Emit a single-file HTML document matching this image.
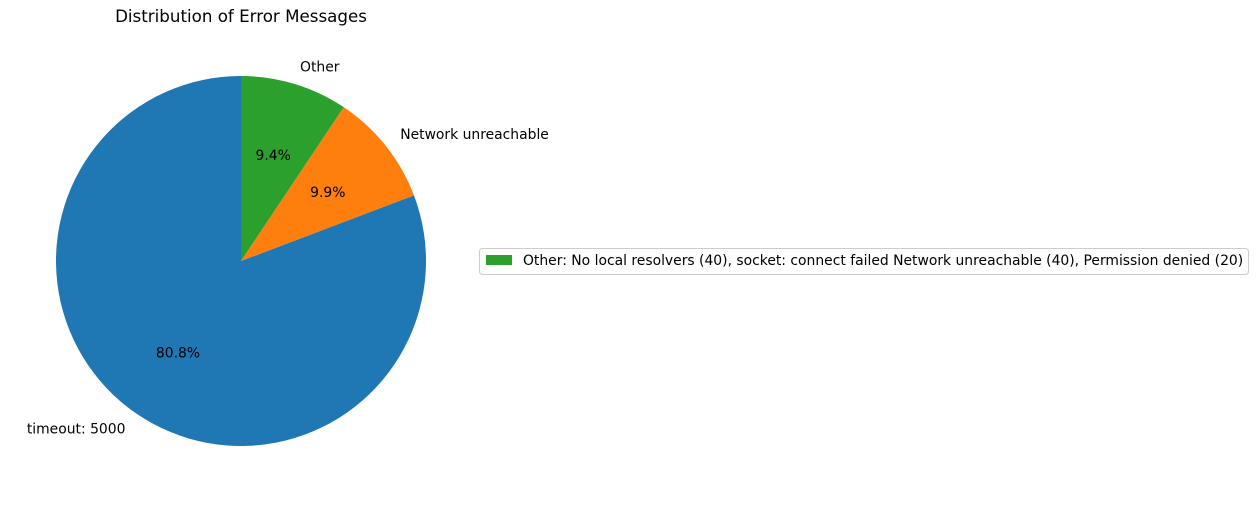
<!DOCTYPE html>
<html><head><meta charset="utf-8"><style>
body{margin:0;background:#fff;font-family:"Liberation Sans","DejaVu Sans",sans-serif;}
</style></head><body>
<svg width="1258" height="502" xmlns="http://www.w3.org/2000/svg" font-family="DejaVu Sans, Liberation Sans, sans-serif">
<text x="241" y="22" text-anchor="middle" font-size="16.7">Distribution of Error Messages</text>
<g id="pie"></g>
<g>
<rect x="479.5" y="248.5" width="769" height="26" rx="3" fill="#fff" stroke="#ccc"/>
<rect x="486" y="255" width="26" height="10" fill="#2ca02c"/>
<text x="523" y="265" font-size="13.9">Other: No local resolvers (40), socket: connect failed Network unreachable (40), Permission denied (20)</text>
</g>
</svg>
<script>
const labels=["timeout: 5000","Network unreachable","Other"];
const values=[5000,610,580];
const colors=["#1f77b4","#ff7f0e","#2ca02c"];
const names=["slice-timeout","slice-network-unreachable","slice-other"];
const cx=241,cy=261,R=185,ns="http://www.w3.org/2000/svg";
const g=document.getElementById("pie");
const total=values.reduce((a,b)=>a+b,0);
let a=90;
values.forEach((v,i)=>{
  const sweep=v/total*360,a2=a+sweep,rad=d=>d*Math.PI/180;
  const x1=cx+R*Math.cos(rad(a)),y1=cy-R*Math.sin(rad(a));
  const x2=cx+R*Math.cos(rad(a2)),y2=cy-R*Math.sin(rad(a2));
  const p=document.createElementNS(ns,"path");
  p.setAttribute("d",`M${cx},${cy}L${x1},${y1}A${R},${R} 0 ${sweep>180?1:0} 0 ${x2},${y2}Z`);
  p.setAttribute("fill",colors[i]);
  
  
  g.appendChild(p);
  const m=rad(a+sweep/2);
  const lx=cx+1.1*R*Math.cos(m),ly=cy-1.1*R*Math.sin(m);
  const t=document.createElementNS(ns,"text");
  t.setAttribute("x",lx);t.setAttribute("y",ly+5);t.setAttribute("font-size","13.9");
  t.setAttribute("text-anchor",Math.cos(m)<0?"end":"start");
  t.textContent=labels[i];
  
  
  g.appendChild(t);
  const px=cx+0.6*R*Math.cos(m),py=cy-0.6*R*Math.sin(m);
  const q=document.createElementNS(ns,"text");
  q.setAttribute("x",px);q.setAttribute("y",py+5);q.setAttribute("font-size","13.9");
  q.setAttribute("text-anchor","middle");
  q.textContent=(v/total*100).toFixed(1)+"%";
  
  
  g.appendChild(q);
  a=a2;
});
</script>
</body></html>
